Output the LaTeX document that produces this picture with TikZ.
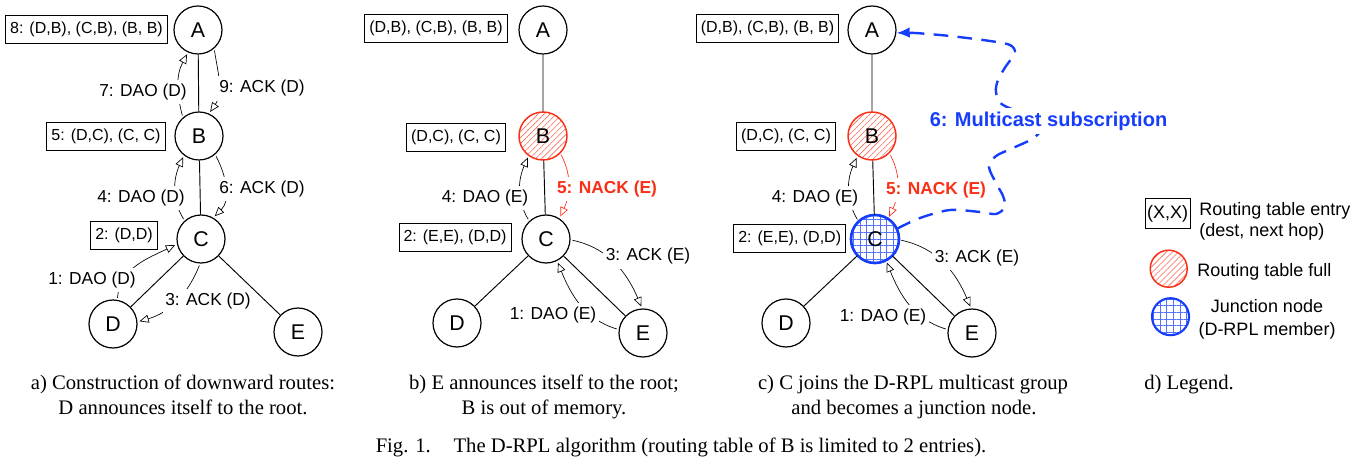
\documentclass[tikz,border=0pt]{standalone}
\usepackage{fontspec}
\setmainfont{Liberation Sans}
\newfontfamily\capfont{Liberation Serif}
\usetikzlibrary{arrows.meta,patterns.meta}
\definecolor{nred}{RGB}{250,48,22}
\definecolor{nblue}{RGB}{22,62,250}
\definecolor{hred}{RGB}{250,105,85}
\definecolor{hblue}{RGB}{85,115,250}
\begin{document}
\begin{tikzpicture}[x=0.75pt,y=0.75pt,
 nd/.style={circle,draw,line width=0.9pt,minimum size=36pt,inner sep=0pt,font=\fontsize{16}{16}\selectfont},
 full/.style={nd,draw=nred,line width=1.1pt,pattern={Lines[angle=45,distance=3.2pt,line width=0.45pt]},pattern color=hred},
 junc/.style={nd,draw=nblue,line width=2pt,pattern={Hatch[distance=5pt,line width=0.5pt]},pattern color=hblue},
 tbl/.style={draw,line width=0.6pt,minimum height=21pt,inner xsep=3.5pt,inner ysep=0pt,font=\fontsize{12}{12}\selectfont},
 lbl/.style={fill=white,inner xsep=2pt,inner ysep=3pt,font=\fontsize{13}{13}\selectfont},
 nack/.style={lbl,text=nred,font=\fontsize{13}{13}\selectfont\bfseries},
 lnk/.style={line width=0.7pt},
 arr/.style={line width=0.5pt,-{Triangle[open,length=7pt,width=6pt]},shorten <=1.5pt,shorten >=1.5pt},
 rarr/.style={arr,draw=nred},
 mc/.style={draw=nblue,line width=1.8pt,dash pattern=on 11pt off 7pt,-{Latex[length=10pt,width=8pt]}},
 capt/.style={font=\fontsize{15.5}{15.5}\capfont,anchor=base,inner sep=0pt},
 lgt/.style={font=\fontsize{13.5}{13.5}\selectfont,inner sep=0pt}]
\useasboundingbox (0,0) rectangle (1369,-459);

% ---------- panel a ----------
\node[nd] (aA) at (198,-30) {A};
\node[nd] (aB) at (199,-136) {B};
\node[nd] (aC) at (201,-239) {C};
\node[nd] (aD) at (113,-324) {D};
\node[nd] (aE) at (298,-332) {E};
\draw[lnk] (aA)--(aB) (aB)--(aC) (aC)--(aD) (aC)--(aE);
\node[tbl] (aT8) at (86.5,-29) {8: (D,B), (C,B), (B, B)};
\node[tbl] (aT5) at (106,-136) {5: (D,C), (C, C)};
\node[tbl] (aT2) at (124,-235) {2: (D,D)};
\draw[arr] (aB.131) to[out=105,in=242] (aA.246);
\draw[arr] (aA.311) to[out=279,in=55] (aB.66);
\draw[arr] (aC.132) to[out=121,in=246] (aB.232);
\draw[arr] (aB.311) to[out=-62,in=45] (aC.60);
\draw[arr] (aD.80) to[out=85,in=206] (aC.192);
\draw[arr] (aC.268) to[out=248,in=16] (aD.5);
\node[lbl] (a7) at (143,-92) {7: DAO (D)};
\node[lbl] (a9) at (262,-88.5) {9: ACK (D)};
\node[lbl] (a4) at (141,-198) {4: DAO (D)};
\node[lbl] (a6) at (262,-189) {6: ACK (D)};
\node[lbl] (a1) at (92,-280) {1: DAO (D)};
\node[lbl] (a3) at (208,-301) {3: ACK (D)};

% ---------- panel b ----------
\node[nd] (bA) at (543,-30) {A};
\node[full] (bB) at (543,-136) {B};
\node[nd] (bC) at (546,-239) {C};
\node[nd] (bD) at (457,-323) {D};
\node[nd] (bE) at (643,-333) {E};
\draw[lnk] (bA)--(bB) (bB)--(bC) (bC)--(bD) (bC)--(bE);
\node[tbl] (bT1) at (436,-28.5) {(D,B), (C,B), (B, B)};
\node[tbl] (bT2) at (456,-137) {(D,C), (C, C)};
\node[tbl] (bT3) at (455,-237.5) {2: (E,E), (D,D)};
\draw[arr] (bC.133) to[out=121,in=246] (bB.234);
\draw[rarr] (bB.315) to[out=-62,in=65] (bC.57);
\draw[arr] (bC.358) to[out=-12,in=113] (bE.92);
\draw[arr] (bE.172) to[out=163,in=292] (bC.297);
\node[lbl] (b4) at (485,-198) {4: DAO (E)};
\node[nack] (b5) at (607,-189) {5: NACK (E)};
\node[lbl] (b3) at (648,-256.5) {3: ACK (E)};
\node[lbl] (b1) at (553,-315.5) {1: DAO (E)};

% ---------- panel c ----------
\node[nd] (cA) at (872,-30) {A};
\node[full] (cB) at (872,-136) {B};
\node[junc] (cC) at (875,-239) {C};
\node[nd] (cD) at (786,-323) {D};
\node[nd] (cE) at (972,-333) {E};
\draw[lnk] (cA)--(cB) (cB)--(cC) (cC)--(cD) (cC)--(cE);
\node[tbl] (cT1) at (767.5,-28.5) {(D,B), (C,B), (B, B)};
\node[tbl] (cT2) at (786,-136) {(D,C), (C, C)};
\node[tbl] (cT3) at (789.7,-238.5) {2: (E,E), (D,D)};
\draw[arr] (cC.133) to[out=121,in=246] (cB.234);
\draw[rarr] (cB.315) to[out=-62,in=65] (cC.57);
\draw[arr] (cC.358) to[out=-12,in=113] (cE.92);
\draw[arr] (cE.172) to[out=163,in=292] (cC.297);
\draw[mc] plot[smooth] coordinates {(cC.25) (920,-218) (950,-210) (980,-212) (996,-214) (1005,-207) (1003,-196) (996,-183) (989,-167) (996,-156) (1013,-148) (1035,-137) (1042,-122) (1003,-105) (996,-92) (998,-80) (1006,-66) (1015,-53) (1010,-45) (990,-41) (950,-36) (915,-33) (cA.-7)};
\node[lbl] (c4) at (815,-198) {4: DAO (E)};
\node[nack] (c5) at (936,-190) {5: NACK (E)};
\node[lbl] (c3) at (977,-258) {3: ACK (E)};
\node[lbl] (c1) at (883,-317) {1: DAO (E)};
\node[lbl,text=nblue,font=\fontsize{15}{15}\selectfont\bfseries] (c6) at (1048.5,-121) {6: Multicast subscription};

% ---------- legend ----------
\node[tbl,font=\fontsize{13.5}{13.5}\selectfont,minimum height=23pt,inner xsep=1.5pt] (lgT) at (1167.5,-213.5) {(X,X)};
\node[lgt,anchor=base west] (lg1) at (1199,-216) {Routing table entry};
\node[lgt,anchor=base west] (lg2) at (1199,-237) {(dest, next hop)};
\node[full,minimum size=27.75pt] (lgF) at (1168.7,-268.7) {};
\node[lgt,anchor=base west] (lg3) at (1197,-277) {Routing table full};
\node[junc,minimum size=27.75pt,line width=1.6pt] (lgJ) at (1170.5,-316.7) {};
\node[lgt,anchor=base] (lg4) at (1267,-313) {Junction node};
\node[lgt,anchor=base] (lg5) at (1267,-335) {(D-RPL member)};

% ---------- captions ----------
\node[capt] (capa1) at (183,-389) {a) Construction of downward routes:};
\node[capt] (capa2) at (183,-414) {D announces itself to the root.};
\node[capt] (capb1) at (544,-389) {b) E announces itself to the root;};
\node[capt] (capb2) at (544,-414) {B is out of memory.};
\node[capt] (capc1) at (913,-389) {c) C joins the D-RPL multicast group};
\node[capt] (capc2) at (914,-414) {and becomes a junction node.};
\node[capt] (capd) at (1189,-389) {d) Legend.};
\node[capt] (fig) at (681,-452) {Fig. 1.\hspace{1.1em}The D-RPL algorithm (routing table of B is limited to 2 entries).};
\end{tikzpicture}
\end{document}
